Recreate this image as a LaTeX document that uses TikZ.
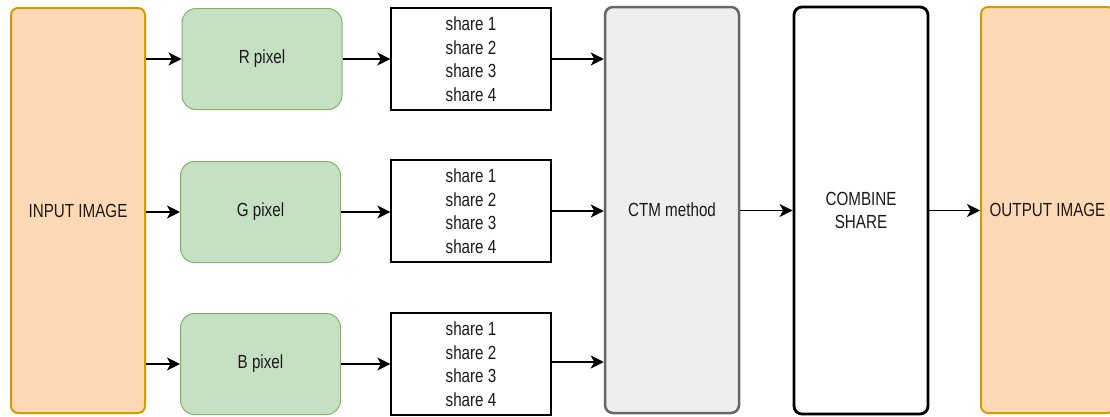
\documentclass[tikz,border=0pt]{standalone}
\usepackage{fontspec}
\setmainfont[FakeStretch=0.8]{Liberation Sans}
\usetikzlibrary{arrows.meta}
\definecolor{peach}{HTML}{FFD9B5}
\definecolor{peachline}{HTML}{D79B00}
\definecolor{greenfill}{HTML}{C6E0C3}
\definecolor{greenline}{HTML}{82B366}
\definecolor{grayfill}{HTML}{EEEEEE}
\definecolor{grayline}{HTML}{666666}
\definecolor{txt}{HTML}{1A1A1A}
\begin{document}
\begin{tikzpicture}[x=1pt,y=-1pt,
  base/.style={inner sep=0pt, align=center, text=txt, font=\fontsize{19}{23.5}\selectfont},
  imgbox/.style={base, draw=peachline, fill=peach, line width=2pt, rounded corners=7pt, minimum width=134pt, minimum height=405pt},
  pixbox/.style={base, draw=greenline, fill=greenfill, line width=1pt, rounded corners=14pt, minimum width=160pt, minimum height=101pt},
  sharebox/.style={base, draw=black, fill=white, line width=1.3pt, minimum width=160pt, minimum height=102pt},
  ctmbox/.style={base, draw=grayline, fill=grayfill, line width=2.5pt, rounded corners=8pt, minimum width=134pt, minimum height=406pt},
  combbox/.style={base, draw=black, fill=white, line width=2.8pt, rounded corners=8pt, minimum width=134pt, minimum height=407pt},
  arr/.style={line width=1.8pt, draw=black, -{Stealth[length=13pt,width=13pt,inset=3.5pt]}}
]
\clip (0,0) rectangle (1110,416);
\fill[white] (0,0) rectangle (1110,416);

\node[imgbox] (in) at (78,210.5) {INPUT IMAGE};
\node[pixbox] (r) at (262,59) {R pixel};
\node[pixbox] (g) at (260.5,212) {G pixel};
\node[pixbox] (b) at (260.5,364) {B pixel};
\node[sharebox] (sr) at (471,59) {share 1\\share 2\\share 3\\share 4};
\node[sharebox] (sg) at (471,211) {share 1\\share 2\\share 3\\share 4};
\node[sharebox] (sb) at (471,364) {share 1\\share 2\\share 3\\share 4};
\node[ctmbox] (ctm) at (672,210) {CTM method};
\node[combbox] (comb) at (861,210.5) {COMBINE\\SHARE};
\node[imgbox, minimum width=133pt, minimum height=406pt] (out) at (1047.5,210) {OUTPUT IMAGE};

\draw[arr] (r.west -| in.east) -- (r.west);
\draw[arr] (g.west -| in.east) -- (g.west);
\draw[arr] (b.west -| in.east) -- (b.west);
\draw[arr] (r.east) -- (r.east -| sr.west);
\draw[arr] (g.east) -- (g.east -| sg.west);
\draw[arr] (b.east) -- (b.east -| sb.west);
\draw[arr] (sr.east) -- (sr.east -| ctm.west);
\draw[arr] (sg.east) -- (sg.east -| ctm.west);
\draw[arr] ([yshift=2pt]sb.east) -- ([yshift=2pt]sb.east -| ctm.west);
\draw[arr] (ctm.east |- comb.west) -- (comb.west);
\draw[arr] (comb.east) -- (comb.east -| out.west);
\end{tikzpicture}
\end{document}
